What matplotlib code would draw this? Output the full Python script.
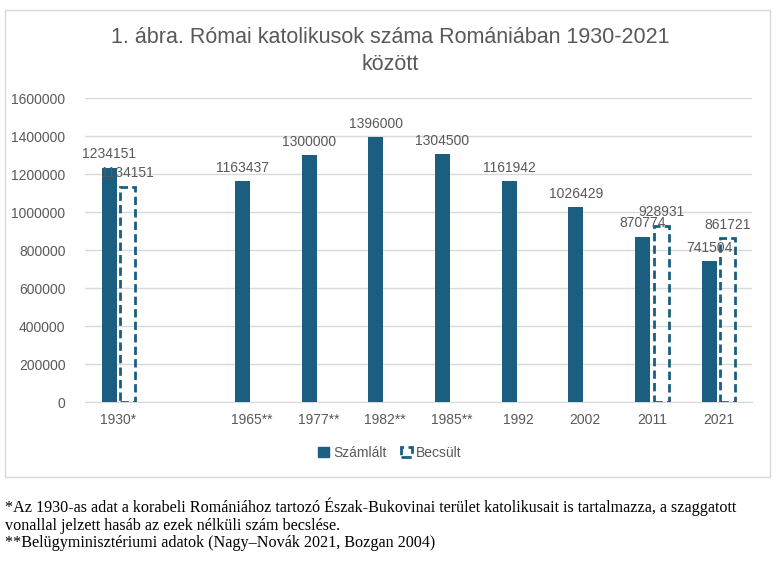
import matplotlib
matplotlib.use('Agg')
import matplotlib.pyplot as plt
from matplotlib.patches import Rectangle, Patch
import numpy as np

# data
labels = ['1930*', '', '1965**', '1977**', '1982**', '1985**', '1992', '2002', '2011', '2021']
szamlalt = [1234151, None, 1163437, 1300000, 1396000, 1304500, 1161942, 1026429, 870774, 741504]
becsult = [1134151, None, None, None, None, None, None, None, 928931, 861721]
yticks = [0, 200000, 400000, 600000, 800000, 1000000, 1200000, 1400000, 1600000]

title = '1. ábra. Római katolikusok száma Romániában 1930-2021\nközött'
note = ('*Az 1930-as adat a korabeli Romániához tartozó Észak-Bukovinai terület katolikusait is tartalmazza, a szaggatott\n'
        'vonallal jelzett hasáb az ezek nélküli szám becslése.\n'
        '**Belügyminisztériumi adatok (Nagy\u2012Novák 2021, Bozgan 2004)')

blue = '#1B5E80'
txt = '#595959'
grid = '#D9D9D9'

plt.rcParams['font.family'] = ['Liberation Sans', 'DejaVu Sans']

W, H = 781, 572
fig = plt.figure(figsize=(W/100, H/100), dpi=100)

# chart border
fig.patches.append(Rectangle((5/W, 1-477/H), 765/W, 467/H, transform=fig.transFigure,
                             fill=False, edgecolor=grid, lw=1))

ax = fig.add_axes([85/W, 1-402/H, 667/W, 304/H])
x = np.arange(len(labels))
bw = 0.225
off = 0.14
for i in x:
    if szamlalt[i] is not None:
        ax.bar(i-off, szamlalt[i], width=bw, color=blue, zorder=3)
        ax.text(i-off, szamlalt[i]+32000, str(szamlalt[i]), ha='center', va='bottom',
                fontsize=10, color=txt, zorder=5)
    if becsult[i] is not None:
        ax.bar(i+off, becsult[i], width=bw, facecolor='none', edgecolor=blue,
               linestyle=(0, (3, 1.5)), lw=2, zorder=3)
        ax.text(i+off, becsult[i]+32000, str(becsult[i]), ha='center', va='bottom',
                fontsize=10, color=txt, zorder=5)

ax.set_xlim(-0.5, len(labels)-0.5)
ax.set_ylim(0, 1600000)
ax.set_yticks(yticks)
ax.set_yticklabels([str(v) for v in yticks])
ax.set_xticks(x)
ax.set_xticklabels(labels)
ax.tick_params(axis='both', length=0, labelsize=10, labelcolor=txt)
ax.tick_params(axis='y', pad=14)
ax.tick_params(axis='x', pad=8)
ax.grid(axis='y', color=grid, lw=1, zorder=0)
for s in ['top', 'right', 'left']:
    ax.spines[s].set_visible(False)
ax.spines['bottom'].set_color(grid)

fig.text(390/W, 1-51/H, title, ha='center', va='center', fontsize=15.5, color=txt,
         linespacing=1.35)

handles = [Patch(facecolor=blue, edgecolor=blue),
           Patch(facecolor='none', edgecolor=blue, linestyle='--', lw=2)]
fig.legend(handles, ['Számlált', 'Becsült'], loc='center', bbox_to_anchor=(390/W, 1-453/H),
           ncol=2, frameon=False, fontsize=10, labelcolor=txt, handlelength=0.8,
           handleheight=0.8, handletextpad=0.3, columnspacing=1.0)

fig.text(5/W, 1-498/H, note, ha='left', va='top', fontsize=11.6, color='black',
         family=['Liberation Serif', 'DejaVu Serif'], linespacing=1.1)

fig.savefig('out.png', dpi=100)
